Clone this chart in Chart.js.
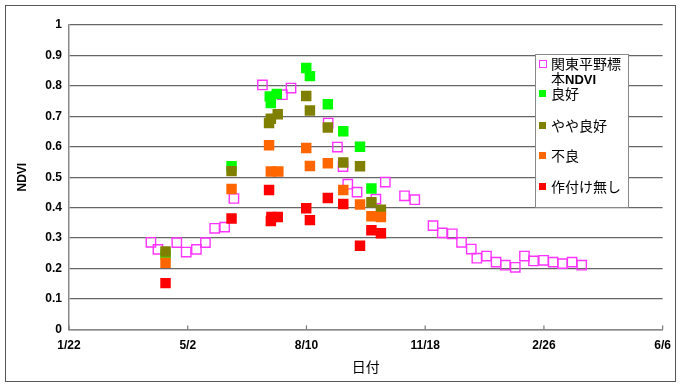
<!DOCTYPE html>
<html>
<head>
<meta charset="utf-8">
<script src="https://cdn.jsdelivr.net/npm/chart.js@4/dist/chart.umd.min.js"></script>
<style>
  body { margin: 0; background: #fff; }
  #wrap { position: relative; width: 680px; height: 385px; }
  #frame { position: absolute; left: 5px; top: 5px; width: 669px; height: 375px; border: 1px solid #555; pointer-events: none; }
  #legend { position: absolute; left: 535px; top: 54px; width: 92px; height: 152px; background: #fff; border: 1px solid #888;
    font-family: "Noto Sans CJK JP", sans-serif; font-size: 14px; color: #000; }
  #legend .t { position: absolute; left: 15px; line-height: 16px; white-space: nowrap; }
  #legend .t b { font-family: "Liberation Sans", sans-serif; font-size: 13px; }
  #legend .m { position: absolute; left: 3px; width: 7px; height: 7px; }
</style>
</head>
<body>
<div id="wrap">
  <canvas id="c" width="680" height="385"></canvas>
  <div id="frame"></div>
  <div id="legend"></div>
</div>
<script>
// x values are days counted from 1/22
const xTickLabels = ['1/22', '5/2', '8/10', '11/18', '2/26', '6/6'];

const refDay = [69.0, 74.9, 90.8, 98.7, 107.3, 114.9, 122.7, 131.1, 138.9, 162.9, 179.7, 187.0, 218.3, 226.1, 230.8, 234.8, 242.6, 258.5, 266.4, 282.6, 291.2, 306.6, 314.4, 322.8, 330.6, 338.8, 343.5, 351.6, 359.7, 367.5, 375.9, 383.6, 391.2, 399.7, 407.8, 415.6, 423.7, 431.8];
const refNdvi = [0.286, 0.263, 0.285, 0.254, 0.263, 0.285, 0.332, 0.336, 0.430, 0.803, 0.771, 0.793, 0.678, 0.599, 0.535, 0.477, 0.451, 0.428, 0.484, 0.439, 0.426, 0.341, 0.317, 0.314, 0.286, 0.264, 0.234, 0.241, 0.221, 0.211, 0.204, 0.241, 0.225, 0.227, 0.221, 0.216, 0.221, 0.211];

const goodDay = [81.3, 136.9, 169.1, 175.0, 170.0, 199.8, 202.9, 218.0, 231.0, 245.1, 254.7];
const goodNdvi = [0.245, 0.536, 0.765, 0.773, 0.744, 0.859, 0.832, 0.740, 0.651, 0.600, 0.463];

const fairDay = [81.3, 136.9, 168.5, 170.0, 175.8, 199.8, 202.9, 218.0, 231.0, 245.1, 254.7, 262.7];
const fairNdvi = [0.256, 0.520, 0.678, 0.692, 0.707, 0.767, 0.719, 0.663, 0.548, 0.536, 0.418, 0.393];

const poorDay = [81.3, 136.9, 168.5, 170.0, 176.3, 199.8, 202.9, 218.0, 231.0, 245.1, 254.7, 262.7];
const poorNdvi = [0.219, 0.461, 0.605, 0.519, 0.519, 0.596, 0.537, 0.546, 0.458, 0.410, 0.372, 0.369];

const noneDay = [81.3, 136.9, 168.5, 170.5, 175.8, 170.0, 199.8, 202.9, 218.0, 231.0, 245.1, 254.7, 262.7];
const noneNdvi = [0.152, 0.364, 0.458, 0.369, 0.369, 0.356, 0.398, 0.359, 0.432, 0.412, 0.275, 0.326, 0.316];

const toPoints = (xs, ys) => xs.map((x, i) => ({ x: x, y: ys[i] }));

// legend entries (drawn as html inside the plot)
const legendItems = [
    { lines: ['関東平野標', '本<b>NDVI</b>'], y: [63, 78], open: true, color: '#ff33ff' },
    { lines: ['良好'], y: [93], color: '#00ff00' },
    { lines: ['やや良好'], y: [125], color: '#808000' },
    { lines: ['不良'], y: [155], color: '#ff6600' },
    { lines: ['作付け無し'], y: [186], color: '#ff0000' },
];

const legendBox = document.getElementById('legend');
legendItems.forEach(item => {
    const m = document.createElement('div');
    m.className = 'm';
    m.style.top = (item.y[0] - 54 - 4.5) + 'px';
    if (item.open) {
        m.style.border = '1px solid ' + item.color;
        m.style.width = '6px'; m.style.height = '6px';
    } else {
        m.style.background = item.color;
    }
    legendBox.appendChild(m);
    item.lines.forEach((txt, j) => {
        const t = document.createElement('div');
        t.className = 't';
        t.innerHTML = txt;
        t.style.top = (item.y[j] - 54 - 9) + 'px';
        legendBox.appendChild(t);
    });
});

// small tick marks pointing up from the x axis
const innerTicks = {
    id: 'innerTicks',
    afterDatasetsDraw(chart) {
        const ctx = chart.ctx;
        const xs = chart.scales.x;
        const bottom = chart.chartArea.bottom;
        ctx.save();
        ctx.strokeStyle = '#777';
        ctx.lineWidth = 1.2;
        xs.ticks.forEach(t => {
            const px = xs.getPixelForValue(t.value);
            ctx.beginPath();
            ctx.moveTo(px, bottom);
            ctx.lineTo(px, bottom - 4);
            ctx.stroke();
        });
        ctx.restore();
    }
};

const filled = (label, data, color, order) => ({
    label: label,
    data: data,
    order: order,
    pointStyle: 'rect',
    pointRadius: 7.4,
    pointBackgroundColor: color,
    pointBorderColor: color,
    pointBorderWidth: 0,
    showLine: false,
});

const ctx = document.getElementById('c').getContext('2d');
new Chart(ctx, {
    type: 'scatter',
    data: {
        datasets: [
            {
                label: '関東平野標本NDVI',
                data: toPoints(refDay, refNdvi),
                order: 5,
                pointStyle: 'rect',
                pointRadius: 6.6,
                pointBackgroundColor: 'rgba(0,0,0,0)',
                pointBorderColor: '#ff33ff',
                pointBorderWidth: 1.4,
                showLine: false,
            },
            filled('良好', toPoints(goodDay, goodNdvi), '#00ff00', 4),
            filled('やや良好', toPoints(fairDay, fairNdvi), '#808000', 3),
            filled('不良', toPoints(poorDay, poorNdvi), '#ff6600', 2),
            filled('作付け無し', toPoints(noneDay, noneNdvi), '#ff0000', 1),
        ]
    },
    options: {
        responsive: false,
        animation: false,
        layout: { padding: { left: 0, top: 25, right: 15, bottom: 0 } },
        plugins: {
            legend: { display: false },
            tooltip: { enabled: false },
        },
        scales: {
            x: {
                type: 'linear',
                min: 0,
                max: 500,
                afterFit: s => { s.height = 55.6; },
                ticks: {
                    stepSize: 100,
                    padding: 9,
                    color: '#000',
                    font: { family: 'Liberation Sans', size: 12, weight: 'bold' },
                    callback: v => xTickLabels[Math.round(v / 100)],
                },
                grid: { drawOnChartArea: false, drawTicks: false },
                border: { display: true, color: '#888', width: 1.5 },
                title: {
                    display: true,
                    text: '日付',
                    color: '#000',
                    font: { family: 'Noto Sans CJK JP', size: 14 },
                    padding: { top: 0, bottom: 10 },
                },
            },
            y: {
                min: 0,
                max: 1,
                afterFit: s => { s.width = 69; },
                ticks: {
                    stepSize: 0.1,
                    padding: 7,
                    color: '#000',
                    font: { family: 'Liberation Sans', size: 12, weight: 'bold' },
                    callback: v => String(Math.round(v * 10) / 10),
                },
                grid: { color: '#666', lineWidth: 1.2, drawTicks: false },
                border: { display: true, color: '#888', width: 1.5 },
                title: {
                    display: true,
                    text: 'NDVI',
                    color: '#000',
                    font: { family: 'Liberation Sans', size: 12, weight: 'bold' },
                    padding: { top: 15, bottom: 0 },
                },
            },
        },
    },
    plugins: [innerTicks],
});
</script>
</body>
</html>
